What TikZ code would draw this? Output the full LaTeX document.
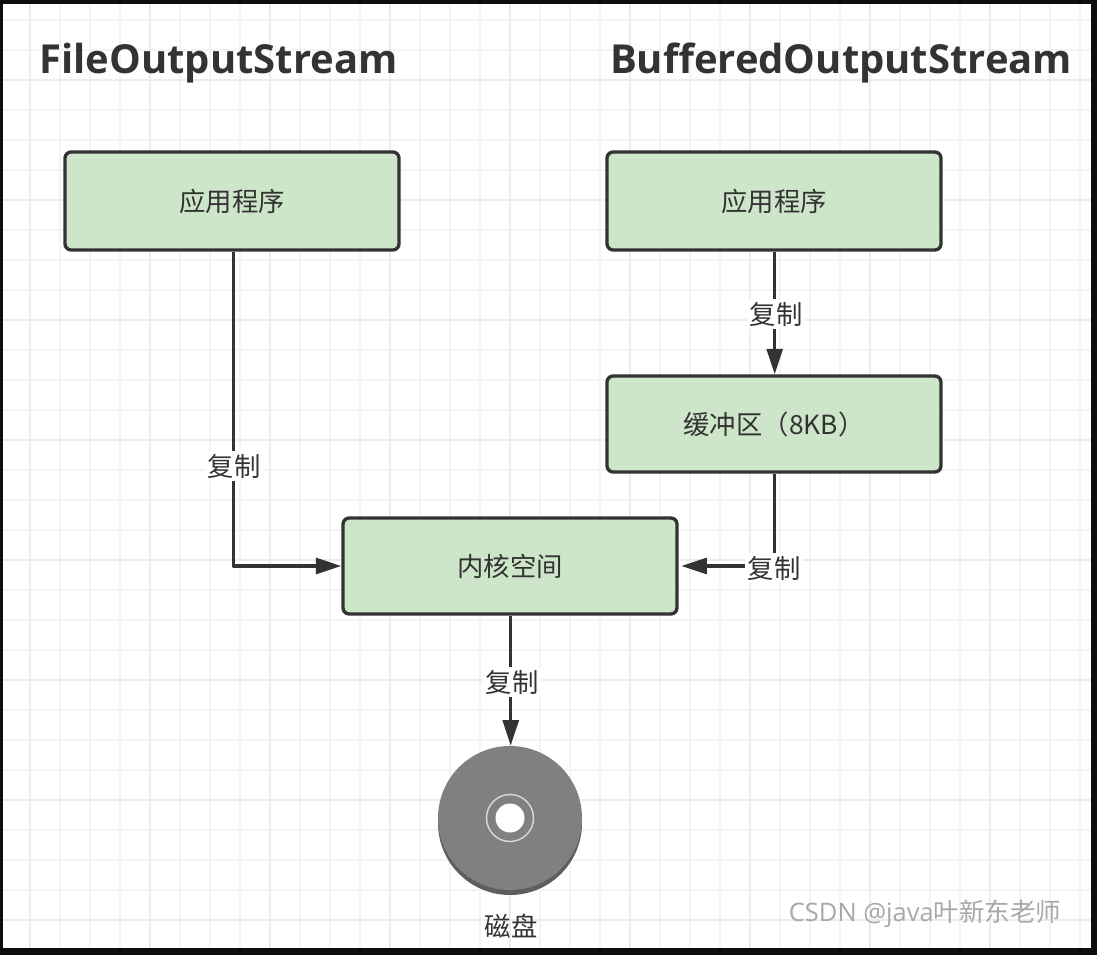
\documentclass[tikz,border=0pt]{standalone}
\usepackage{fontspec}
\setmainfont{Open Sans}
\newfontfamily\cjkfont{Noto Sans CJK SC}
\usetikzlibrary{arrows.meta}
\definecolor{qqframe}{rgb}{0.05,0.05,0.05}
\definecolor{ggminor}{rgb}{0.957,0.957,0.957}
\definecolor{ggmajor}{rgb}{0.925,0.925,0.925}
\definecolor{bxfill}{rgb}{0.804,0.898,0.784}
\definecolor{dkline}{rgb}{0.2,0.2,0.2}
\definecolor{dkgray}{rgb}{0.37,0.37,0.37}
\definecolor{mdgray}{rgb}{0.5,0.5,0.5}
\definecolor{wmgray}{rgb}{0.66,0.66,0.66}
\tikzset{
  boxnode/.style={draw=dkline,fill=bxfill,line width=1.9pt,rounded corners=3.5pt,inner sep=0pt,text=dkline,font=\cjkfont\fontsize{15}{18}\selectfont},
  copylabel/.style={fill=white,inner sep=1.5pt,text=dkline,font=\cjkfont\fontsize{15}{18}\selectfont},
  titlenode/.style={inner sep=0pt,text=dkline,font=\fontsize{22.75}{26}\selectfont\bfseries},
  link/.style={draw=dkline,line width=1.9pt,-{Triangle[length=14.5pt,width=9pt]}}
}
\begin{document}
\begin{tikzpicture}[line cap=butt,line join=round,x=0.02cm,y=-0.02cm]
\useasboundingbox (0,0) rectangle (1097,955);
\fill[qqframe] (0,0) rectangle (1097,955);
\fill[white] (3,4) rectangle (1091,948);
% grid
\foreach \gx in {30,60,...,1080} \draw[ggminor,line width=1pt] (\gx,4)-- (\gx,948);
\foreach \gy in {20,50,...,940} \draw[ggminor,line width=1pt] (3,\gy)-- (1091,\gy);
\foreach \gx in {30,150,...,1080} \draw[ggmajor,line width=1pt] (\gx,4)-- (\gx,948);
\foreach \gy in {80,200,...,920} \draw[ggmajor,line width=1pt] (3,\gy)-- (1091,\gy);
% titles
\node[titlenode,anchor=center] (titleleft) at (218.5,63) {FileOutputStream};
\node[titlenode,anchor=center] (titleright) at (841,63) {BufferedOutputStream};
% boxes
\node[boxnode,minimum width=334*0.02cm,minimum height=98*0.02cm] (appleft) at (232,201) {\raisebox{0.6pt}{应用程序}};
\node[boxnode,minimum width=334*0.02cm,minimum height=98*0.02cm] (appright) at (774,201) {\raisebox{0.6pt}{应用程序}};
\node[boxnode,minimum width=334*0.02cm,minimum height=96*0.02cm] (buffer) at (774,424) {缓冲区（8KB）};
\node[boxnode,minimum width=334*0.02cm,minimum height=96*0.02cm] (kernel) at (510,566) {内核空间};
% disk
\fill[dkgray] (510,823) circle (72);
\node[circle,fill=mdgray,inner sep=0pt,minimum size=144*0.02cm] (disk) at (510,818) {};
\draw[white!85!black,line width=0.8pt] (disk.center) circle (23.5);
\fill[white] (disk.center) circle (14.5);
\node[inner sep=0pt,text=dkline,font=\cjkfont\fontsize{15}{18}\selectfont] (disklabel) at (511,926) {磁盘};
% connectors
\draw[link] ([xshift=0.9pt]appleft.south) |- (kernel.west);
\node[copylabel] (copyleft) at (234,466) {复制};
\draw[link] ([xshift=0.4pt]appright.south) -- ([xshift=0.4pt]buffer.north);
\node[copylabel] (copyright) at (776,314) {复制};
\draw[link,shorten >=1.5pt] ([xshift=0.4pt]buffer.south) |- (kernel.east);
\node[copylabel] (copybuffer) at (774,568) {复制};
\draw[link] ([xshift=0.4pt]kernel.south) -- ([xshift=0.4pt]disk.north);
\node[copylabel] (copykernel) at (512,682) {复制};
% watermark
\node[inner sep=0pt,text=wmgray,font=\fontsize{14.5}{17}\selectfont,anchor=center] (mark) at (925,914) {CSDN @java{\cjkfont 叶新东老师}};
\end{tikzpicture}
\end{document}
